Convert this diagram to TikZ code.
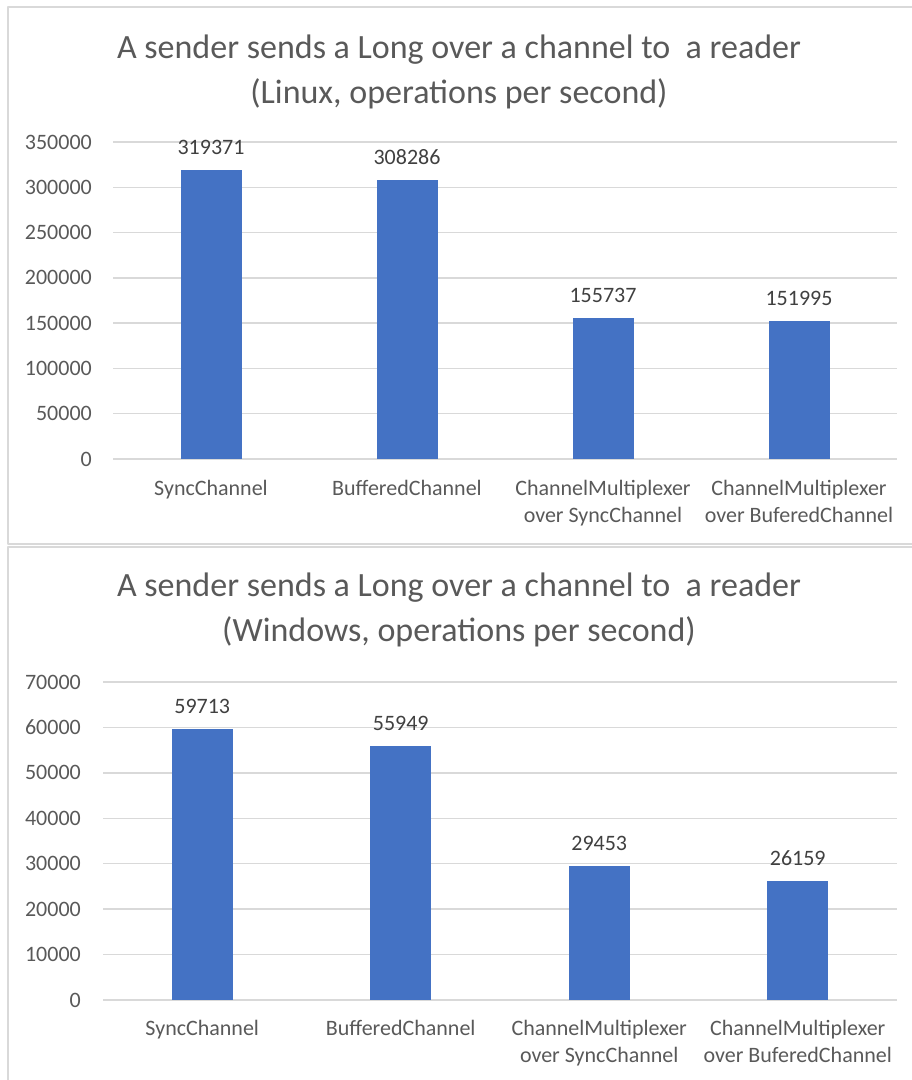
\documentclass[tikz,border=0pt]{standalone}
\usepackage{fontspec}
\setmainfont{Carlito}
\definecolor{barblue}{HTML}{4472C4}
\definecolor{txtgray}{HTML}{595959}
\definecolor{lblgray}{HTML}{404040}
\definecolor{gridgray}{HTML}{D9D9D9}
\begin{document}
\begin{tikzpicture}[x=1pt, y=-1pt, line join=round,
    title/.style={text=txtgray, font=\fontsize{34}{45}\selectfont, align=center, inner sep=0pt},
    tick/.style={text=txtgray, font=\fontsize{22}{27}\selectfont, anchor=east, inner sep=0pt},
    cat/.style={text=txtgray, font=\fontsize{22}{27}\selectfont, align=center, anchor=north, inner sep=0pt},
    val/.style={text=lblgray, font=\fontsize{22}{27}\selectfont, anchor=south, inner sep=0pt},
    bar/.style={fill=barblue, draw=none},
    gridline/.style={draw=gridgray, line width=1.5pt},
    frame/.style={draw=gridgray, line width=2pt}]
    \useasboundingbox (0,0) rectangle (912,1080);
    \def\bw{30.5} % half bar width
    % --- chart 1 (Linux)
    \draw[frame] (8,7) rectangle (930,544);
    \node[title] (t1) at (459,72) {A sender sends a Long over a channel to \ a reader\\(Linux, operations per second)};
    \foreach \k/\t in {0/0,1/50000,2/100000,3/150000,4/200000,5/250000,6/300000,7/350000}{
        \draw[gridline] (113,{459-\k*317/7}) -- (897,{459-\k*317/7});
        \node[tick] (ya-\k) at (92,{459-\k*317/7}) {\t};
    }
    \foreach \i/\v/\t/\c in {1/319.371/319371/SyncChannel, 2/308.286/308286/BufferedChannel,
        3/155.737/155737/ChannelMultiplexer\\over SyncChannel, 4/151.995/151995/ChannelMultiplexer\\over BuferedChannel}{
        \fill[bar] ({113+(\i-0.5)*196-\bw},459) rectangle ({113+(\i-0.5)*196+\bw},{459-\v/350*317});
        \node[val] (va-\i) at ({113+(\i-0.5)*196},{459-\v/350*317-15}) {\t};
        \node[cat] (ca-\i) at ({113+(\i-0.5)*196},480) {\c};
    }
    % --- chart 2 (Windows)
    \draw[frame] (8,547) rectangle (930,1100);
    \node[title] (t2) at (459,610) {A sender sends a Long over a channel to \ a reader\\(Windows, operations per second)};
    \foreach \k/\t in {0/0,1/10000,2/20000,3/30000,4/40000,5/50000,6/60000,7/70000}{
        \draw[gridline] (103,{1000-\k*318/7}) -- (897,{1000-\k*318/7});
        \node[tick] (yb-\k) at (81,{1000-\k*318/7}) {\t};
    }
    \foreach \i/\v/\t/\c in {1/59.713/59713/SyncChannel, 2/55.949/55949/BufferedChannel,
        3/29.453/29453/ChannelMultiplexer\\over SyncChannel, 4/26.159/26159/ChannelMultiplexer\\over BuferedChannel}{
        \fill[bar] ({103+(\i-0.5)*198.5-\bw},1000) rectangle ({103+(\i-0.5)*198.5+\bw},{1000-\v/70*318});
        \node[val] (vb-\i) at ({103+(\i-0.5)*198.5},{1000-\v/70*318-15}) {\t};
        \node[cat] (cb-\i) at ({103+(\i-0.5)*198.5},1020) {\c};
    }
\end{tikzpicture}
\end{document}
